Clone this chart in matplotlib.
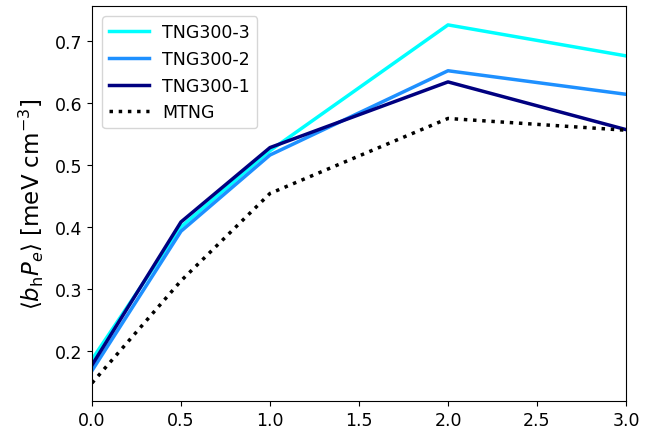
import matplotlib
matplotlib.use('Agg')
import matplotlib.pyplot as plt

z = [0.0, 0.5, 1.0, 2.0, 3.0]
tng3 = [0.186, 0.400, 0.523, 0.726, 0.676]
tng2 = [0.168, 0.393, 0.516, 0.652, 0.614]
tng1 = [0.177, 0.408, 0.528, 0.634, 0.557]
mtng = [0.148, 0.313, 0.454, 0.575, 0.556]

fig = plt.figure(figsize=(6.5, 4.35), dpi=100)
ax = fig.add_axes([92 / 650, 33 / 435, 534 / 650, 395 / 435])

ax.plot(z, tng3, color='cyan', lw=2.5, label='TNG300-3')
ax.plot(z, tng2, color='dodgerblue', lw=2.5, label='TNG300-2')
ax.plot(z, tng1, color='navy', lw=2.5, label='TNG300-1')
ax.plot(z, mtng, color='black', lw=2.5, ls=':', label='MTNG')

ax.set_xlim(0, 3)
ax.set_ylim(0.119, 0.7565)
ax.set_xticks([0, 0.5, 1.0, 1.5, 2.0, 2.5, 3.0])
ax.tick_params(labelsize=12.5)
ax.set_ylabel(r'$\langle b_{\rm h} P_e \rangle$ [meV cm$^{-3}$]', fontsize=16.5, labelpad=7)
ax.legend(loc='upper left', fontsize=12.5, handlelength=2.3,
          handletextpad=0.75, borderaxespad=0.6)

fig.savefig('out.png', dpi=100)
